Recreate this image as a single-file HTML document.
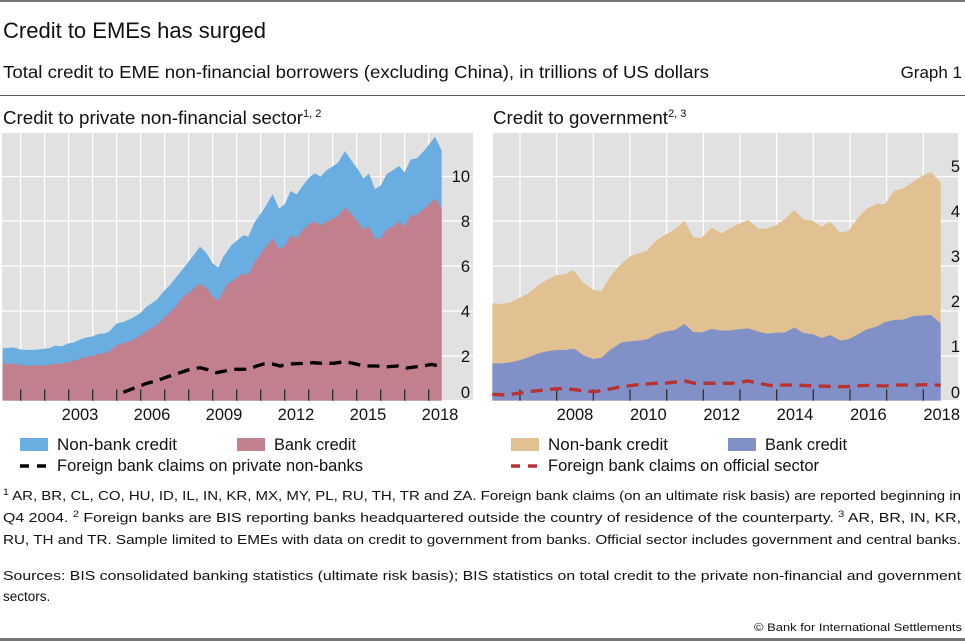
<!DOCTYPE html>
<html><head><meta charset="utf-8"><style>
html,body{margin:0;padding:0;background:#fff;}
svg{display:block;font-family:"Liberation Sans",sans-serif;}
</style></head><body>
<svg width="965" height="641" viewBox="0 0 965 641" xmlns="http://www.w3.org/2000/svg">
<rect x="0" y="0" width="965" height="2" fill="#777"/>
<text x="3" y="38" font-size="22" fill="#111" textLength="263" lengthAdjust="spacingAndGlyphs">Credit to EMEs has surged</text>
<text x="3" y="78" font-size="17.5" fill="#111" textLength="706" lengthAdjust="spacingAndGlyphs">Total credit to EME non-financial borrowers (excluding China), in trillions of US dollars</text>
<text x="962" y="78" font-size="17" fill="#111" text-anchor="end">Graph 1</text>
<rect x="0" y="95" width="965" height="1" fill="#555"/>
<text x="3" y="124" font-size="18" fill="#111"><tspan textLength="300" lengthAdjust="spacingAndGlyphs">Credit to private non-financial sector</tspan><tspan font-size="11" dy="-7">1, 2</tspan></text>
<text x="493" y="124" font-size="18" fill="#111"><tspan textLength="175" lengthAdjust="spacingAndGlyphs">Credit to government</tspan><tspan font-size="11" dy="-7">2, 3</tspan></text>

<!-- LEFT PANEL -->
<rect x="2" y="133" width="471" height="267" fill="#e1e1e1"/>
<g stroke="#fff" stroke-width="1.2">
<line x1="2" x2="473" y1="176.7" y2="176.7"/><line x1="2" x2="473" y1="221" y2="221"/><line x1="2" x2="473" y1="266" y2="266"/><line x1="2" x2="473" y1="311" y2="311"/><line x1="2" x2="473" y1="356" y2="356"/>
<line x1="20.7" x2="20.7" y1="133" y2="400"/><line x1="44.7" x2="44.7" y1="133" y2="400"/><line x1="68.7" x2="68.7" y1="133" y2="400"/><line x1="92.7" x2="92.7" y1="133" y2="400"/><line x1="116.7" x2="116.7" y1="133" y2="400"/><line x1="140.7" x2="140.7" y1="133" y2="400"/><line x1="164.7" x2="164.7" y1="133" y2="400"/><line x1="188.7" x2="188.7" y1="133" y2="400"/><line x1="212.7" x2="212.7" y1="133" y2="400"/><line x1="236.7" x2="236.7" y1="133" y2="400"/><line x1="260.7" x2="260.7" y1="133" y2="400"/><line x1="284.7" x2="284.7" y1="133" y2="400"/><line x1="308.7" x2="308.7" y1="133" y2="400"/><line x1="332.7" x2="332.7" y1="133" y2="400"/><line x1="356.7" x2="356.7" y1="133" y2="400"/><line x1="380.7" x2="380.7" y1="133" y2="400"/><line x1="404.7" x2="404.7" y1="133" y2="400"/><line x1="428.7" x2="428.7" y1="133" y2="400"/>
</g>
<g transform="translate(0 130) scale(0.33333)">
<polygon fill="#6aade0" points="8,812 8,655 40,652 60,658 80,660 110,659 150,654 165,647 185,649 205,640 220,638 245,627 260,622 278,619 295,612 315,610 330,603 350,580 370,576 395,565 420,550 440,530 470,510 490,485 510,465 530,440 550,415 570,390 600,350 620,370 638,400 655,412 670,380 695,345 730,316 745,320 765,275 790,240 818,193 837,236 855,222 872,183 890,193 910,165 930,140 945,130 962,140 980,120 1000,108 1015,97 1035,63 1060,100 1075,120 1090,145 1107,131 1125,177 1142,167 1160,132 1180,120 1197,108 1214,127 1232,88 1250,85 1270,65 1290,40 1305,20 1325,62 1325,812"/>
<polygon fill="#c27f8e" points="8,812 8,700 45,702 65,705 80,707 110,707 150,705 165,701 185,702 205,695 225,692 245,684 260,680 280,678 295,671 315,670 330,663 350,645 370,640 395,631 420,618 440,603 470,586 490,565 510,548 530,525 550,500 570,485 600,460 620,475 638,500 655,512 680,465 695,455 730,430 745,435 765,395 790,360 818,325 837,357 855,347 872,315 890,325 910,298 930,280 945,275 962,286 980,275 1000,266 1015,256 1035,232 1060,260 1075,278 1090,298 1107,290 1125,328 1142,324 1160,298 1180,288 1197,275 1214,289 1232,256 1250,255 1270,238 1290,220 1305,206 1325,235 1325,812"/>
<g stroke="#333" stroke-width="4"><line x1="62" x2="62" y1="778" y2="812"/><line x1="134" x2="134" y1="778" y2="812"/><line x1="206" x2="206" y1="778" y2="812"/><line x1="278" x2="278" y1="778" y2="812"/><line x1="350" x2="350" y1="778" y2="812"/><line x1="422" x2="422" y1="778" y2="812"/><line x1="494" x2="494" y1="778" y2="812"/><line x1="566" x2="566" y1="778" y2="812"/><line x1="638" x2="638" y1="778" y2="812"/><line x1="710" x2="710" y1="778" y2="812"/><line x1="782" x2="782" y1="778" y2="812"/><line x1="854" x2="854" y1="778" y2="812"/><line x1="926" x2="926" y1="778" y2="812"/><line x1="998" x2="998" y1="778" y2="812"/><line x1="1070" x2="1070" y1="778" y2="812"/><line x1="1142" x2="1142" y1="778" y2="812"/><line x1="1214" x2="1214" y1="778" y2="812"/><line x1="1286" x2="1286" y1="778" y2="812"/></g>
<polyline fill="none" stroke="#000" stroke-width="10" stroke-dasharray="36,22" points="370,787 395,777 420,768 440,760 470,752 490,745 510,738 540,728 570,718 600,713 620,718 650,728 680,722 700,718 745,718 770,708 790,702 818,702 840,708 870,702 910,700 940,698 965,700 1000,700 1035,695 1060,700 1090,708 1130,708 1160,710 1195,708 1220,714 1250,710 1270,708 1295,703 1325,710"/>
</g>
<g font-size="16.5" fill="#111" text-anchor="end">
<text x="470" y="182">10</text><text x="470" y="227">8</text><text x="470" y="272">6</text><text x="470" y="317">4</text><text x="470" y="362">2</text><text x="470" y="398">0</text>
</g>
<g font-size="16.5" fill="#111" text-anchor="middle">
<text x="80" y="420">2003</text><text x="152" y="420">2006</text><text x="224" y="420">2009</text><text x="296" y="420">2012</text><text x="368" y="420">2015</text><text x="440" y="420">2018</text>
</g>
<rect x="20" y="438" width="28" height="13" fill="#6aade0"/>
<text x="57" y="450" font-size="16.5" fill="#111" textLength="120" lengthAdjust="spacingAndGlyphs">Non-bank credit</text>
<rect x="237" y="438" width="28" height="13" fill="#c27f8e"/>
<text x="274" y="450" font-size="16.5" fill="#111" textLength="82" lengthAdjust="spacingAndGlyphs">Bank credit</text>
<line x1="20" x2="49" y1="466" y2="466" stroke="#000" stroke-width="3.5" stroke-dasharray="9,8"/>
<text x="57" y="471" font-size="16.5" fill="#111" textLength="306" lengthAdjust="spacingAndGlyphs">Foreign bank claims on private non-banks</text>

<!-- RIGHT PANEL -->
<rect x="493" y="133" width="465" height="267" fill="#e1e1e1"/>
<g stroke="#fff" stroke-width="1.2">
<line x1="493" x2="958" y1="176.7" y2="176.7"/><line x1="493" x2="958" y1="221" y2="221"/><line x1="493" x2="958" y1="266" y2="266"/><line x1="493" x2="958" y1="311" y2="311"/><line x1="493" x2="958" y1="356" y2="356"/>
<line x1="520" x2="520" y1="133" y2="400"/><line x1="556.7" x2="556.7" y1="133" y2="400"/><line x1="593.3" x2="593.3" y1="133" y2="400"/><line x1="630" x2="630" y1="133" y2="400"/><line x1="666.7" x2="666.7" y1="133" y2="400"/><line x1="703.3" x2="703.3" y1="133" y2="400"/><line x1="740" x2="740" y1="133" y2="400"/><line x1="776.7" x2="776.7" y1="133" y2="400"/><line x1="813.3" x2="813.3" y1="133" y2="400"/><line x1="850" x2="850" y1="133" y2="400"/><line x1="886.7" x2="886.7" y1="133" y2="400"/><line x1="923.3" x2="923.3" y1="133" y2="400"/>
</g>
<g transform="translate(485 130) scale(0.33333)">
<polygon fill="#e1c191" points="22,812 22,520 50,522 75,517 100,505 130,490 160,465 185,450 215,435 240,433 265,420 295,458 325,480 350,483 375,440 405,405 435,380 460,370 485,363 515,330 540,315 570,298 598,272 625,322 650,323 680,293 710,310 730,298 760,282 790,270 820,296 845,296 875,285 900,267 928,240 955,268 985,273 1010,290 1035,275 1065,308 1090,303 1120,262 1145,236 1175,222 1200,222 1228,182 1255,175 1285,155 1310,138 1338,126 1367,158 1367,812"/>
<polygon fill="#8190c6" points="22,812 22,700 50,700 75,697 100,692 130,682 160,670 185,664 215,660 240,660 268,656 295,676 325,687 350,683 375,660 410,637 435,634 460,632 490,627 515,612 540,605 570,600 598,582 625,606 650,607 680,597 710,602 730,602 760,598 790,595 820,605 845,611 875,608 900,607 928,592 955,609 985,613 1010,624 1035,615 1065,631 1090,628 1120,612 1145,598 1175,590 1200,576 1228,570 1255,569 1285,558 1310,557 1338,555 1367,580 1367,812"/>
<g stroke="#333" stroke-width="4"><line x1="105" x2="105" y1="778" y2="812"/><line x1="215" x2="215" y1="778" y2="812"/><line x1="325" x2="325" y1="778" y2="812"/><line x1="435" x2="435" y1="778" y2="812"/><line x1="545" x2="545" y1="778" y2="812"/><line x1="655" x2="655" y1="778" y2="812"/><line x1="765" x2="765" y1="778" y2="812"/><line x1="875" x2="875" y1="778" y2="812"/><line x1="985" x2="985" y1="778" y2="812"/><line x1="1095" x2="1095" y1="778" y2="812"/><line x1="1205" x2="1205" y1="778" y2="812"/><line x1="1315" x2="1315" y1="778" y2="812"/></g>
<polyline fill="none" stroke="#b83232" stroke-width="10" stroke-dasharray="36,22" points="22,793 60,795 100,790 140,784 180,780 215,776 240,776 270,779 300,783 330,785 360,780 400,772 435,767 470,763 510,760 540,760 580,755 600,753 630,760 660,760 700,760 740,760 790,753 820,760 860,767 900,765 950,766 990,768 1030,769 1080,770 1110,768 1150,766 1200,768 1240,765 1290,765 1330,764 1367,766"/>
</g>
<g font-size="16.5" fill="#111" text-anchor="end">
<text x="960" y="172">5</text><text x="960" y="217">4</text><text x="960" y="262">3</text><text x="960" y="307">2</text><text x="960" y="352">1</text><text x="960" y="398">0</text>
</g>
<g font-size="16.5" fill="#111" text-anchor="middle">
<text x="575" y="420">2008</text><text x="648.3" y="420">2010</text><text x="721.7" y="420">2012</text><text x="795" y="420">2014</text><text x="868.3" y="420">2016</text><text x="941.7" y="420">2018</text>
</g>
<rect x="511" y="438" width="28" height="13" fill="#e1c191"/>
<text x="548" y="450" font-size="16.5" fill="#111" textLength="120" lengthAdjust="spacingAndGlyphs">Non-bank credit</text>
<rect x="728" y="438" width="28" height="13" fill="#8190c6"/>
<text x="765" y="450" font-size="16.5" fill="#111" textLength="82" lengthAdjust="spacingAndGlyphs">Bank credit</text>
<line x1="511" x2="540" y1="466" y2="466" stroke="#b83232" stroke-width="3.5" stroke-dasharray="9,8"/>
<text x="548" y="471" font-size="16.5" fill="#111" textLength="271" lengthAdjust="spacingAndGlyphs">Foreign bank claims on official sector</text>

<!-- FOOTNOTES -->
<g font-size="13" fill="#111">
<text x="3" y="500" textLength="958" lengthAdjust="spacingAndGlyphs"><tspan font-size="9" dy="-5">1</tspan><tspan dy="5">  AR, BR, CL, CO, HU, ID, IL, IN, KR, MX, MY, PL, RU, TH, TR and ZA. Foreign bank claims (on an ultimate risk basis) are reported beginning in</tspan></text>
<text x="3" y="522" textLength="958" lengthAdjust="spacingAndGlyphs">Q4 2004.    <tspan font-size="9" dy="-5">2</tspan><tspan dy="5">  Foreign banks are BIS reporting banks headquartered outside the country of residence of the counterparty.    </tspan><tspan font-size="9" dy="-5">3</tspan><tspan dy="5">  AR, BR, IN, KR,</tspan></text>
<text x="3" y="544" textLength="958" lengthAdjust="spacingAndGlyphs">RU, TH and TR. Sample limited to EMEs with data on credit to government from banks. Official sector includes government and central banks.</text>
<text x="3" y="580" textLength="958" lengthAdjust="spacingAndGlyphs">Sources: BIS consolidated banking statistics (ultimate risk basis); BIS statistics on total credit to the private non-financial and government</text>
<text x="3" y="601" font-size="13.5">sectors.</text>
</g>
<text x="962" y="631" font-size="11" fill="#111" text-anchor="end" textLength="208" lengthAdjust="spacingAndGlyphs">© Bank for International Settlements</text>
<rect x="0" y="638" width="965" height="3" fill="#777"/>
</svg>
</body></html>
